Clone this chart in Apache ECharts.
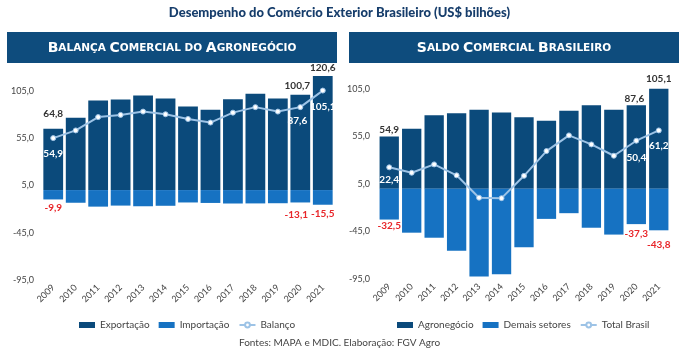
<!DOCTYPE html>
<html>
<head>
<meta charset="utf-8">
<script src="https://cdn.jsdelivr.net/npm/echarts@6/dist/echarts.min.js"></script>
<style>
html, body { margin: 0; padding: 0; background: #fff; }
#chart { width: 679px; height: 352px; }
</style>
</head>
<body>
<div id="chart"></div>
<script>
// anos e valores (US$ bilhões)
var anos = ['2009', '2010', '2011', '2012', '2013', '2014', '2015', '2016', '2017', '2018', '2019', '2020', '2021'];
var exportacao = [64.8, 76.4, 94.6, 95.8, 100.0, 96.7, 88.2, 84.9, 96.0, 101.7, 96.8, 100.7, 120.6];
var importacao = [-9.9, -13.4, -17.5, -16.4, -17.1, -16.6, -13.1, -13.6, -14.2, -14.1, -13.9, -13.1, -15.5];
var balanco = [54.9, 63.0, 77.1, 79.4, 82.9, 80.1, 75.1, 71.3, 81.8, 87.6, 82.9, 87.6, 105.1];
var agronegocio = [54.9, 63.0, 77.1, 79.4, 82.9, 80.1, 75.1, 71.3, 81.8, 87.6, 82.9, 87.6, 105.1];
var demais = [-32.5, -46.3, -51.6, -65.4, -92.4, -90.1, -61.6, -31.8, -25.8, -41.1, -48.3, -37.3, -43.8];
var totalBrasil = [22.4, 16.7, 25.5, 14.0, -9.5, -10.0, 13.5, 39.5, 56.0, 46.5, 34.6, 50.4, 61.2];
var yTicks = [-95, 130, 50]; // min, max, intervalo

var corEscuro = '#0b4a7b';
var corClaro = '#1672c2';
var corLinha = '#9dc3e6';
var fonte = 'Lato';

function fmt(v) { return v.toFixed(1).replace('.', ','); }

// coloca rótulo só nos pontos pedidos
function rotular(arr, pos) {
    return arr.map(function (v, i) {
        if (pos[i] == null) return v;
        return { value: v, label: Object.assign({ show: true }, pos[i]) };
    });
}

var rotuloEscuro = { color: '#333', fontFamily: fonte, fontWeight: 'bold', fontSize: 10, formatter: function (p) { return fmt(p.value); } };
var rotuloBranco = { color: '#fff', fontFamily: fonte, fontWeight: 'bold', fontSize: 10, formatter: function (p) { return fmt(p.value); } };
var rotuloVermelho = { color: '#e8262a', fontFamily: fonte, fontWeight: 'bold', fontSize: 10, formatter: function (p) { return fmt(p.value); } };

function eixoX(g) {
    return {
        type: 'category', gridIndex: g, data: anos,
        axisLine: { show: false }, axisTick: { show: false },
        axisLabel: { rotate: 45, fontSize: 9, color: '#444', fontFamily: fonte, margin: 6, interval: 0 }
    };
}
function eixoY(g) {
    return {
        type: 'value', gridIndex: g, min: yTicks[0], max: yTicks[1], interval: yTicks[2],
        splitLine: { show: false }, axisLine: { show: false }, axisTick: { show: false },
        axisLabel: { showMaxLabel: false, fontSize: 9, color: '#444', fontFamily: fonte, margin: 8, formatter: function (v) { return fmt(v); } }
    };
}

// versalete: primeira letra grande, resto pequeno ("do" fica todo pequeno)
function cabecalho(x, w, partes) {
    var txt = '', rich = {
        g: { fontSize: 14, fontWeight: 'bold', fill: '#fff', fontFamily: 'DejaVu Sans' },
        p: { fontSize: 10.5, fontWeight: 'bold', fill: '#fff', fontFamily: 'DejaVu Sans' }
    };
    partes.forEach(function (s, i) {
        if (i > 0) txt += '{p| }';
        if (s == 'DO') txt += '{p|' + s + '}';
        else txt += '{g|' + s[0] + '}{p|' + s.slice(1) + '}';
    });
    return [
        { type: 'rect', left: x, top: 32, shape: { width: w, height: 31 }, style: { fill: '#0e4c7d' } },
        { type: 'text', x: x + w / 2, y: 48, style: { text: txt, rich: rich, align: 'center', verticalAlign: 'middle' } }
    ];
}

var legTexto = { fontSize: 10, color: '#444', fontFamily: fonte };

var chart = echarts.init(document.getElementById('chart'));
chart.setOption({
    animation: false,
    title: {
        text: 'Desempenho do Comércio Exterior Brasileiro (US$ bilhões)',
        left: 'center', top: 1,
        textStyle: { color: '#163d6b', fontSize: 13, fontWeight: 900, fontFamily: fonte }
    },
    graphic: cabecalho(7, 330, ['BALANÇA', 'COMERCIAL', 'DO', 'AGRONEGÓCIO'])
        .concat(cabecalho(349, 330, ['SALDO', 'COMERCIAL', 'BRASILEIRO']))
        .concat([{ type: 'text', left: 'center', top: 338, style: { text: 'Fontes: MAPA e MDIC. Elaboração: FGV Agro', fill: '#444', font: '10px Lato' } }]),
    legend: [
        { data: [{ name: 'Exportação', icon: 'rect' }, { name: 'Importação', icon: 'rect' }, 'Balanço'],
          left: 74, top: 315, itemWidth: 16, itemHeight: 6, itemGap: 9, textStyle: legTexto },
        { data: [{ name: 'Agronegócio', icon: 'rect' }, { name: 'Demais setores', icon: 'rect' }, 'Total Brasil'],
          left: 392, top: 315, itemWidth: 16, itemHeight: 6, itemGap: 9, textStyle: legTexto }
    ],
    grid: [
        { left: 42, right: 345, top: 67, bottom: 72 },
        { left: 378, right: 9, top: 65, bottom: 73 }
    ],
    xAxis: [eixoX(0), eixoX(1)],
    yAxis: [eixoY(0), eixoY(1)],
    series: [
        { name: 'Exportação', type: 'bar', stack: 'a', xAxisIndex: 0, yAxisIndex: 0, barCategoryGap: '12%',
          itemStyle: { color: corEscuro }, label: rotuloEscuro,
          data: rotular(exportacao, { 0: { position: 'top', distance: 10 }, 11: { position: 'top', distance: 4, offset: [-3, 0] }, 12: { position: 'top', distance: 3 } }) },
        { name: 'Importação', type: 'bar', stack: 'a', xAxisIndex: 0, yAxisIndex: 0, barCategoryGap: '12%',
          itemStyle: { color: corClaro }, label: rotuloVermelho,
          data: rotular(importacao, { 0: { position: 'bottom', distance: 3 }, 11: { position: 'bottom', distance: 7, offset: [-4, 0] }, 12: { position: 'bottom', distance: 4 } }) },
        { name: 'Balanço', type: 'line', xAxisIndex: 0, yAxisIndex: 0, symbol: 'circle', symbolSize: 5,
          lineStyle: { color: corLinha, width: 2 }, itemStyle: { color: '#fff', borderColor: corLinha, borderWidth: 1 },
          label: rotuloBranco,
          data: rotular(balanco, { 0: { position: 'bottom', distance: 8 }, 11: { position: 'bottom', distance: 6, offset: [-3, 0] }, 12: { position: 'bottom', distance: 8 } }) },
        { name: 'Agronegócio', type: 'bar', stack: 'b', xAxisIndex: 1, yAxisIndex: 1, barCategoryGap: '14%',
          itemStyle: { color: corEscuro }, label: rotuloEscuro,
          data: rotular(agronegocio, { 0: { position: 'top', distance: 2 }, 11: { position: 'top', distance: 2, offset: [-2, 0] }, 12: { position: 'top', distance: 5 } }) },
        { name: 'Demais setores', type: 'bar', stack: 'b', xAxisIndex: 1, yAxisIndex: 1, barCategoryGap: '14%',
          itemStyle: { color: corClaro }, label: rotuloVermelho,
          data: rotular(demais, { 0: { position: 'bottom', distance: 1 }, 11: { position: 'bottom', distance: 5 }, 12: { position: 'bottom', distance: 9 } }) },
        { name: 'Total Brasil', type: 'line', xAxisIndex: 1, yAxisIndex: 1, symbol: 'circle', symbolSize: 5,
          lineStyle: { color: corLinha, width: 2 }, itemStyle: { color: '#fff', borderColor: corLinha, borderWidth: 1 },
          label: rotuloBranco,
          data: rotular(totalBrasil, { 0: { position: 'bottom', distance: 4 }, 11: { position: 'bottom', distance: 9 }, 12: { position: 'bottom', distance: 7 } }) }
    ]
});
</script>
</body>
</html>
